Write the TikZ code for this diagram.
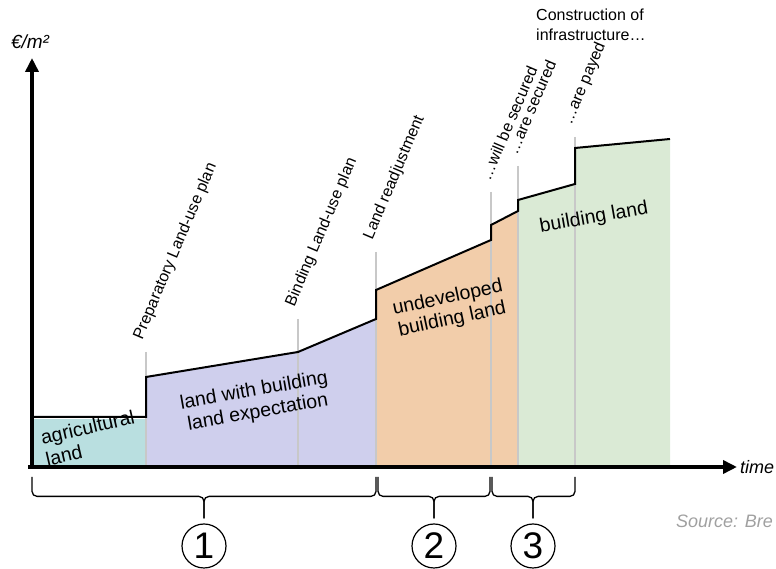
\documentclass[tikz,border=0pt]{standalone}
\usepackage{fontspec}
\setmainfont{Liberation Sans}
\usetikzlibrary{arrows.meta}
\definecolor{agri}{RGB}{185,223,224}
\definecolor{expect}{RGB}{207,207,237}
\definecolor{undev}{RGB}{242,205,170}
\definecolor{build}{RGB}{218,234,213}
\definecolor{tickgray}{RGB}{200,200,200}
\definecolor{srcgray}{RGB}{160,160,160}
\begin{document}
\begin{tikzpicture}[x=1pt,y=1pt,
	axis/.style={line width=4pt,-{Triangle[length=14pt,width=13pt]}},
	profile/.style={line width=2pt,line join=miter},
	milestone/.style={tickgray,line width=1.3pt},
	event/.style={rotate=67,anchor=south west,inner sep=1pt,font=\fontsize{16}{19}\selectfont},
	area/.style={align=center,font=\fontsize{19.5}{22}\selectfont},
	phase/.style={draw,circle,line width=1.2pt,minimum size=44pt,inner sep=0pt,font=\fontsize{37}{37}\selectfont},
	bracket/.style={line width=1.3pt,rounded corners=5pt}]
	\useasboundingbox (0,0) rectangle (776,569);
	
	\coordinate (o) at (32,102);
	\coordinate (ytop) at (32,511);
	\coordinate (xend) at (737,102);
	\coordinate (m1) at (146,217);
	\coordinate (m2) at (298,250);
	\coordinate (m3) at (376,317);
	\coordinate (m4) at (491,377);
	\coordinate (m5) at (518,403);
	\coordinate (m6) at (575,432);
	
	\fill[agri] (32,102) rectangle (146,150);
	\fill[expect] (146,102) -- (146,192) -- (298,217) -- (376,250) -- (376,102) -- cycle;
	\fill[undev] (376,102) -- (376,279) -- (491,329) -- (491,344) -- (518,358) -- (518,102) -- cycle;
	\fill[build] (518,102) -- (518,369) -- (575,385) -- (575,421) -- (670,430) -- (670,102) -- cycle;
	
	\draw[milestone] (m1) -- (m1 |- o);
	\draw[milestone] (m2) -- (m2 |- o);
	\draw[milestone] (m3) -- (m3 |- o);
	\draw[milestone] (m4) -- (m4 |- o);
	\draw[milestone] (m5) -- (m5 |- o);
	\draw[milestone] (m6) -- (m6 |- o);
	
	\draw[profile] (32,152) -- (146,152) -- (146,192) -- (298,217) -- (376,250) -- (376,279) -- (491,329) -- (491,344) -- (518,358) -- (518,369) -- (575,385) -- (575,421) -- (670,430);
	
	\draw[axis] ([yshift=-2pt]o) -- (ytop);
	\draw[axis] ([xshift=-4pt]o) -- (xend);
	\node[font=\itshape\fontsize{19}{19}\selectfont] (unit) at (30,527) {€/m²};
	\node[anchor=west,inner sep=1pt,font=\itshape\fontsize{18}{18}\selectfont] (time) at ([xshift=2pt]xend) {time};
	
	\node[event] (prep) at ([yshift=9pt]m1) {Preparatory Land-use plan};
	\node[event] (bind) at ([yshift=9pt]m2) {Binding Land-use plan};
	\node[event] (readj) at ([yshift=9pt]m3) {Land readjustment};
	\node[event] (will) at ([yshift=9pt]m4) {…will be secured};
	\node[event] (are) at ([yshift=9pt]m5) {…are secured};
	\node[event] (payed) at ([yshift=9pt]m6) {…are payed};
	\node[anchor=north west,inner sep=0pt,align=left,font=\fontsize{16}{20}\selectfont] (infra) at (536,560) {Construction of\\infrastructure…};
	
	\node[area,align=left,rotate=13] (agriland) at (90,131) {agricultural\\land};
	\node[area,rotate=10] (expectland) at (256,167) {land with building\\land expectation};
	\node[area,rotate=12] (undevland) at (450,260) {undeveloped\\building land};
	\node[area,rotate=10] (buildland) at (594,351) {building land};
	
	\node[phase] (p1) at (204,23) {1};
	\node[phase] (p2) at (434,23) {2};
	\node[phase] (p3) at (533,23) {3};
	\draw[bracket] (32,92) |- ([yshift=27pt]p1.north) -- ([yshift=5pt]p1.north);
	\draw[bracket] (376,92) |- ([yshift=27pt]p1.north) -- ([yshift=5pt]p1.north);
	\draw[bracket] (378,92) |- ([yshift=27pt]p2.north) -- ([yshift=5pt]p2.north);
	\draw[bracket] (490,92) |- ([yshift=27pt]p2.north) -- ([yshift=5pt]p2.north);
	\draw[bracket] (492,92) |- ([yshift=27pt]p3.north) -- ([yshift=5pt]p3.north);
	\draw[bracket] (575,92) |- ([yshift=27pt]p3.north) -- ([yshift=5pt]p3.north);
	
	\node[anchor=base west,inner sep=0pt,text=srcgray,font=\itshape\fontsize{18}{18}\selectfont] (source) at (676,41) {Source: Bre};
\end{tikzpicture}
\end{document}
